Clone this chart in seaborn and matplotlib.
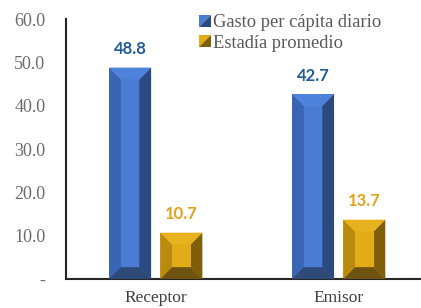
import numpy as np
import pandas as pd
import matplotlib
matplotlib.use("Agg")
import matplotlib.pyplot as plt
import seaborn as sns
from matplotlib.patches import Polygon, Rectangle
from matplotlib.legend_handler import HandlerBase

# ---------------- datos
categorias = ["Receptor", "Emisor"]
series = ["Gasto per cápita diario", "Estadía promedio"]
gasto = [48.8, 42.7]
estadia = [10.7, 13.7]
yticks = [0, 10, 20, 30, 40, 50, 60]
ytick_labels = ["-", "10.0", "20.0", "30.0", "40.0", "50.0", "60.0"]

df = pd.DataFrame({
    "tipo": categorias * 2,
    "serie": [series[0]] * 2 + [series[1]] * 2,
    "valor": gasto + estadia,
})

# colores: cara, izq, der, arriba, abajo
col_blue = dict(face="#4A7CD3", left="#3A65B2", right="#2A4A80", top="#4F82DA", bottom="#2E4A78")
col_gold = dict(face="#E2AB18", left="#B98B0E", right="#7F5F0A", top="#E8B11E", bottom="#6E5410")
paleta = {series[0]: col_blue["face"], series[1]: col_gold["face"]}
lbl_col = {series[0]: "#1F5C99", series[1]: "#E3A21A"}

sns.set_style("white")
plt.rcParams["font.family"] = ["Liberation Serif", "DejaVu Serif"]

fig = plt.figure(figsize=(4.21, 3.08), dpi=100)
ax = fig.add_axes([0.157, 0.094, 0.843, 0.844])

sns.barplot(data=df, x="tipo", y="valor", hue="serie", order=categorias,
            hue_order=series, palette=paleta, width=0.56, gap=0.18,
            legend=False, ax=ax, linewidth=0, saturation=1)

ax.set_ylim(0, 60)
ax.set_xlim(-0.49, 1.45)

# ---------- bisel de las barras
dy = 2.75
bars = list(ax.patches)
for i, p in enumerate(bars):
    c = col_blue if i < len(categorias) else col_gold
    x0, w, h = p.get_x(), p.get_width(), p.get_height()
    x1 = x0 + w
    dx = 0.28 * w
    xi0, xi1 = x0 + dx, x1 - dx
    polys = [
        ([(x0, 0), (xi0, dy), (xi0, h - dy), (x0, h)], c["left"]),
        ([(x1, 0), (xi1, dy), (xi1, h - dy), (x1, h)], c["right"]),
        ([(x0, h), (xi0, h - dy), (xi1, h - dy), (x1, h)], c["top"]),
        ([(x0, 0), (xi0, dy), (xi1, dy), (x1, 0)], c["bottom"]),
    ]
    for pts, fc in polys:
        ax.add_patch(Polygon(pts, closed=True, facecolor=fc, edgecolor="none", zorder=3))
    ax.add_patch(Rectangle((xi0, dy), xi1 - xi0, h - 2 * dy, facecolor=c["face"],
                           edgecolor="none", zorder=3))
    s = series[0] if i < len(categorias) else series[1]
    ax.text(x0 + w / 2, h + 4.2, f"{h:.1f}", ha="center", va="center",
            fontsize=12, fontweight="bold", color=lbl_col[s],
            family=["Lato", "DejaVu Sans"], zorder=4)

# ---------- ejes
ax.set_yticks(yticks)
ax.set_yticklabels(ytick_labels)
ax.set_xlabel("")
ax.set_ylabel("")
for side in ["top", "right"]:
    ax.spines[side].set_visible(False)
for side in ["left", "bottom"]:
    ax.spines[side].set_color("#262626")
    ax.spines[side].set_linewidth(1.5)
ax.tick_params(axis="y", direction="in", length=6, width=1.2, color="#262626",
               labelsize=13, labelcolor="#6b6b6b", pad=15)
ax.tick_params(axis="x", length=0, labelsize=12.5, labelcolor="#404040", pad=8)
ax.grid(False)


# ---------- leyenda con cuadritos biselados
class HandlerBisel(HandlerBase):
    def __init__(self, light, dark):
        super().__init__()
        self.light = light
        self.dark = dark

    def create_artists(self, legend, orig_handle, xdescent, ydescent, width, height, fontsize, trans):
        s = min(width, height) * 1.0
        x0 = -xdescent + (width - s) / 2
        y0 = -ydescent + (height - s) / 2
        t1 = Polygon([(x0, y0), (x0, y0 + s), (x0 + s, y0 + s)], closed=True,
                     facecolor=self.light, edgecolor="none", transform=trans)
        t2 = Polygon([(x0, y0), (x0 + s, y0), (x0 + s, y0 + s)], closed=True,
                     facecolor=self.dark, edgecolor="none", transform=trans)
        return [t1, t2]


h1 = Rectangle((0, 0), 1, 1)
h2 = Rectangle((0, 0), 1, 1)
leg = fig.legend([h1, h2], series, loc="upper left", bbox_to_anchor=(0.455, 0.978),
                 frameon=False, fontsize=13.3, handlelength=0.65, handleheight=0.65,
                 handletextpad=0.1, labelspacing=0.2, borderaxespad=0,
                 handler_map={h1: HandlerBisel(col_blue["face"], col_blue["right"]),
                              h2: HandlerBisel(col_gold["face"], col_gold["right"])})
for t in leg.get_texts():
    t.set_color("#595959")

fig.savefig("out.png", dpi=100)
